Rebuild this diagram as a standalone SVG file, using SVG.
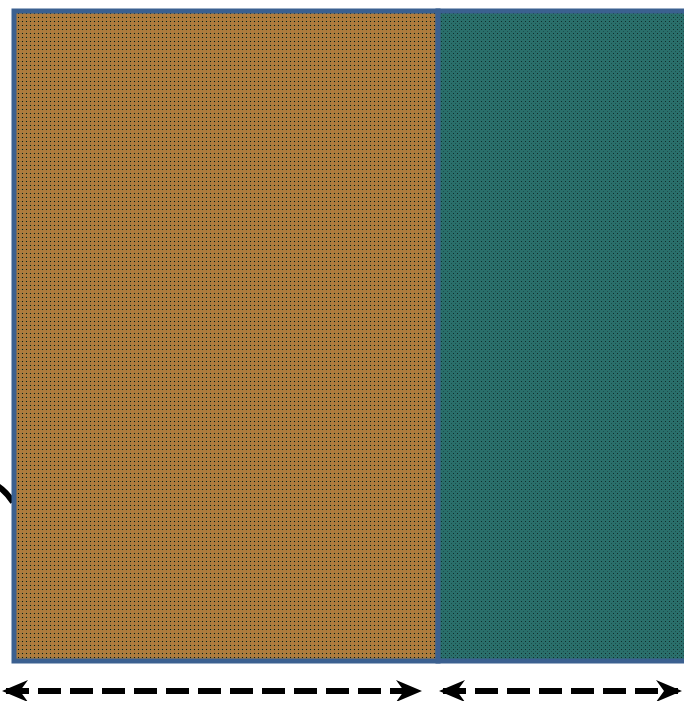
<svg xmlns="http://www.w3.org/2000/svg" width="684" height="701" viewBox="0 0 684 701">
<style>
.frame{stroke:#3B6090;stroke-width:5;}
.dim{stroke:#000;stroke-width:6;stroke-dasharray:23 9;fill:none;}
</style>
<defs>
<pattern id="pL" width="4" height="4" patternUnits="userSpaceOnUse">
<rect width="4" height="4" fill="#B27A3C"/>
<rect x="0" y="1" width="4" height="1" fill="#8E8043" opacity="0.6"/>
<rect x="2" y="0" width="1" height="4" fill="#8E8043" opacity="0.5"/>
<rect x="2" y="1" width="1" height="1" fill="#111"/>
</pattern>
<pattern id="pR" width="4" height="4" patternUnits="userSpaceOnUse">
<rect width="4" height="4" fill="#2A6F6B"/>
<rect x="1" y="1" width="1" height="1" fill="#0E2E2C"/>
<rect x="3" y="3" width="1" height="1" fill="#1D4F4C"/>
</pattern>
<marker id="ah" viewBox="0 0 26 22" markerWidth="26" markerHeight="22" refX="22" refY="11" orient="auto-start-reverse" markerUnits="userSpaceOnUse">
<path d="M0,0 L26,11 L0,22 L8,11 Z" fill="#000"/>
</marker>
</defs>
<g id="curve">
<path d="M-4,485 Q5,490 13,502" stroke="#000" stroke-width="6" fill="none"/>
</g>
<g id="left-region">
<rect x="14" y="11" width="424" height="650" fill="url(#pL)" class="frame"/>
</g>
<g id="right-region">
<rect x="438" y="11" width="260" height="650" fill="url(#pR)" class="frame"/>
</g>
<g id="connectors">
<line x1="6" y1="691" x2="418" y2="691" class="dim" marker-start="url(#ah)" marker-end="url(#ah)"/>
<line x1="443" y1="691" x2="678" y2="691" class="dim" marker-start="url(#ah)" marker-end="url(#ah)"/>
</g>
</svg>
